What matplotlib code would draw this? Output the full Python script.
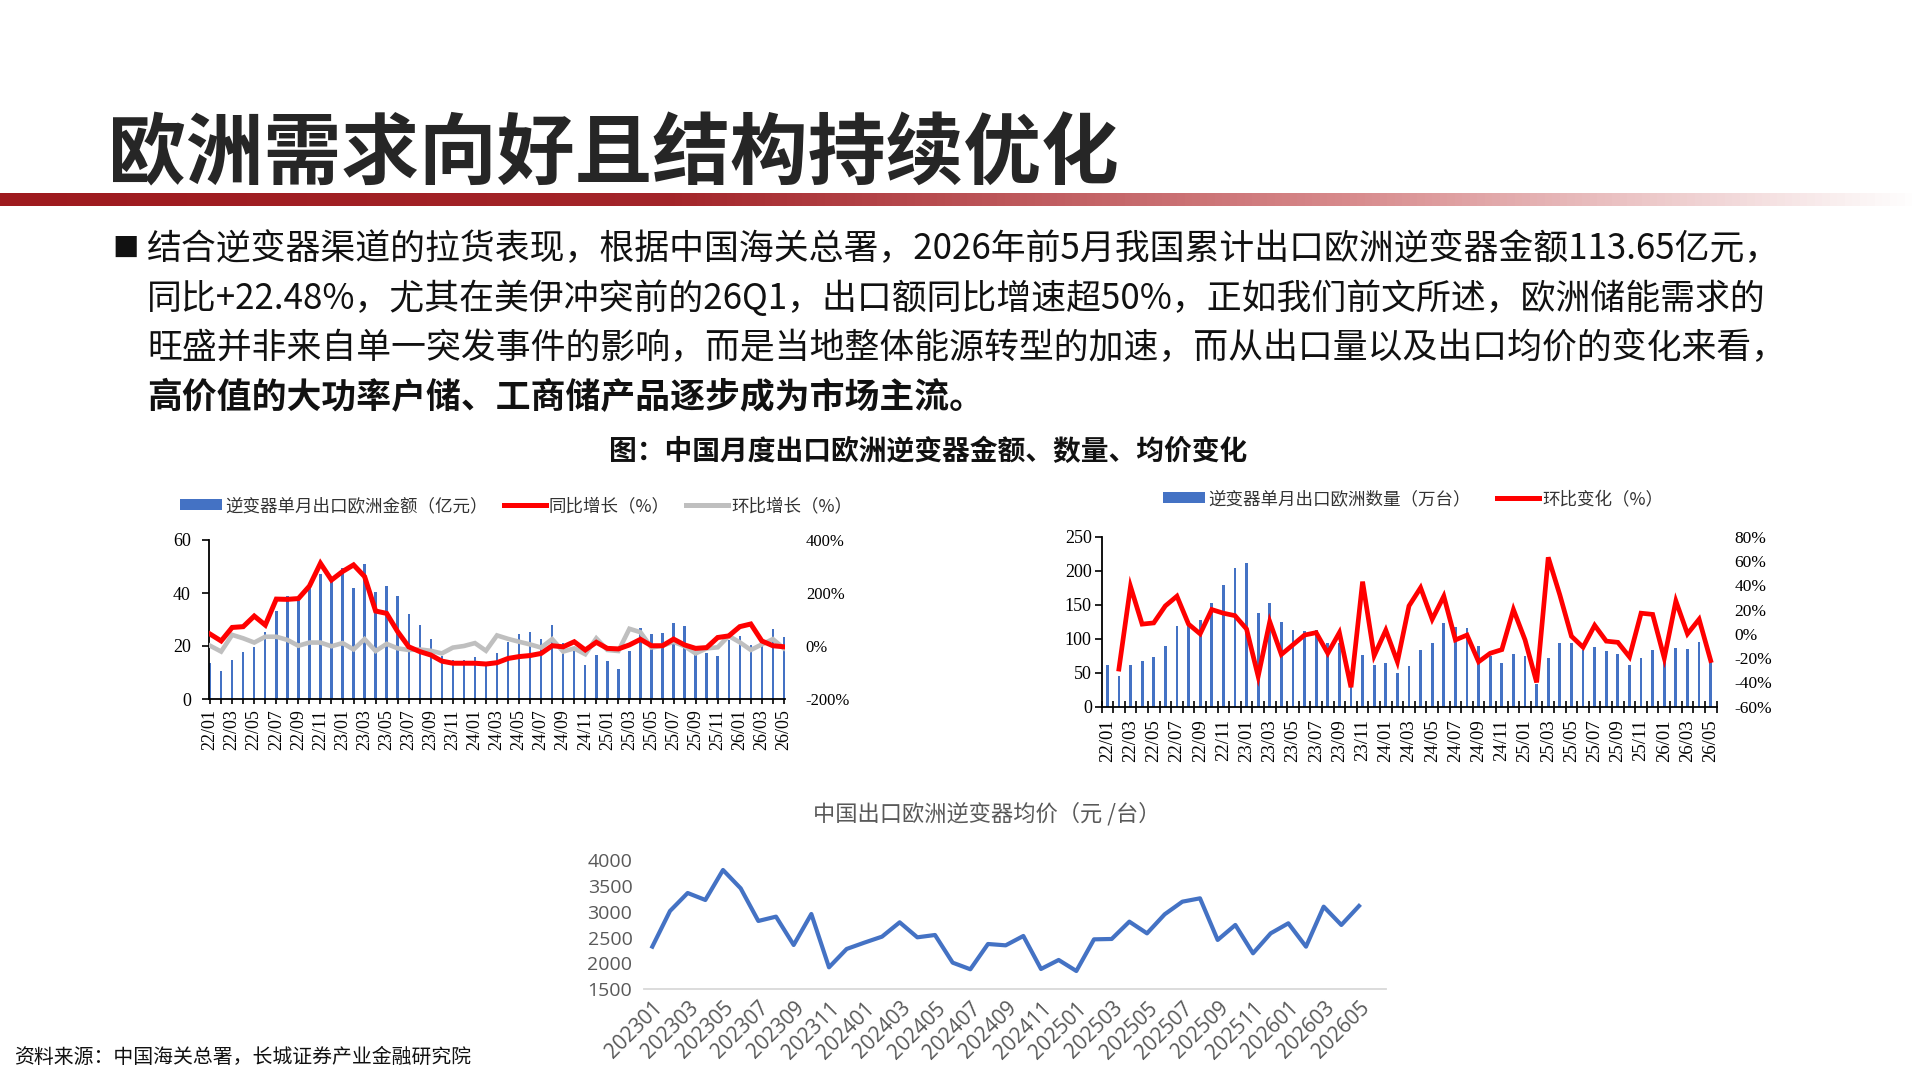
import matplotlib
matplotlib.use('Agg')
import matplotlib.pyplot as plt
import numpy as np
from matplotlib.patches import Patch
from matplotlib.lines import Line2D
from matplotlib.colors import LinearSegmentedColormap

CJK = ['Noto Sans CJK SC', 'DejaVu Sans']
SERIF = ['Liberation Serif', 'Noto Sans CJK SC']
plt.rcParams['font.family'] = CJK

# ---------------- data ----------------
months = [f"{y}/{m:02d}" for y in range(22, 27) for m in range(1, 13)][:53]

amount = [13.5, 10.7, 14.6, 17.8, 19.5, 25.3, 33.1, 38.9, 37.0, 41.9, 47.3, 44.4,
          49.5, 41.9, 51.1, 40.4, 42.8, 38.9, 32.1, 27.9, 22.6, 16.2, 14.9, 14.6,
          15.8, 13.5, 17.4, 21.6, 24.5, 25.1, 22.6, 27.8, 21.3, 18.2, 12.8, 16.5,
          14.2, 11.2, 18.2, 26.9, 24.5, 25.0, 28.8, 27.4, 17.1, 17.5, 16.3, 22.2,
          23.8, 20.2, 20.0, 26.4, 23.3]
amount_yoy = [45, 19, 70, 73, 113, 79, 177, 176, 179, 226, 312, 249,
              281, 306, 262, 132, 123, 54, -3, -21, -34, -57, -65, -65,
              -65, -68, -63, -47, -40, -36, -28, 1, -3, 16, -15, 14,
              -9, -11, 4, 25, 1, 1, 26, 4, -9, -6, 32, 38,
              73, 83, 19, 1, -3]
amount_mom = [1, -21, 42, 29, 13, 35, 35, 23, 1, 13, 13, -1,
              11, -13, 26, -19, 8, -9, -15, -13, -18, -28, -6, 0,
              11, -18, 40, 27, 16, 6, -6, 26, -21, -9, -31, 29,
              -15, -19, 65, 52, -6, 1, 16, -1, -28, -9, -5, 38,
              14, -15, 6, 26, -9]

quantity = [62, 45, 62, 67, 73, 90, 118, 126, 128, 152, 179, 204,
            212, 138, 152, 125, 113, 112, 113, 94, 94, 29, 76, 62,
            64, 49, 60, 84, 94, 123, 117, 116, 89, 75, 65, 78,
            74, 33, 72, 94, 93, 83, 88, 82, 77, 62, 72, 84,
            68, 86, 85, 95, 70]
quantity_mom = [np.nan, -29, 39, 8, 9, 23, 31, 8, 0, 20, 17, 15,
                4, -35, 10, -17, -9, -1, 1, -16, 1, -44, 43, -18,
                3, -23, 23, 38, 12, 31, -5, -1, -23, -16, -13, 20,
                -5, -40, 63, 32, -2, -11, 7, -6, -7, -19, 17, 16,
                -20, 27, 0, 12, -22]

price_months = [f"{y}{m:02d}" for y in range(2023, 2027) for m in range(1, 13)][:41]
avg_price = [2325, 3014, 3362, 3227, 3807, 3452, 2821, 2905, 2357, 2956, 1925, 2280,
             2402, 2518, 2795, 2505, 2550, 2015, 1887, 2376, 2350, 2531, 1893, 2067,
             1854, 2466, 2473, 2808, 2582, 2950, 3194, 3259, 2454, 2744, 2196, 2582,
             2776, 2325, 3098, 2744, 3111]

BLUE = '#4472C4'
RED = '#FF0000'
GREY = '#BFBFBF'
W, H = 1920, 1080


def fx(px):
    return px / W


def fy(py):
    return 1 - py / H


fig = plt.figure(figsize=(19.2, 10.8), dpi=100)

# ---------------- header ----------------
fig.text(fx(108), fy(156), '欧洲需求向好且结构持续优化', fontsize=56, fontweight='bold',
         color='#262626', va='center', ha='left')

grad_ax = fig.add_axes([0, fy(206), 1, 13 / H])
cmap = LinearSegmentedColormap.from_list('g', [(0, '#9E1A1E'), (0.35, '#A3252A'),
                                               (0.7, '#D7898B'), (1.0, '#FFFFFF')])
grad_ax.imshow(np.linspace(0, 1, 512)[None, :], aspect='auto', cmap=cmap,
               extent=[0, 1, 0, 1])
grad_ax.set_axis_off()

fig.text(fx(112), fy(249), '■', fontsize=19, color='#111111', va='center', ha='left')
lines = ['结合逆变器渠道的拉货表现，根据中国海关总署，2026年前5月我国累计出口欧洲逆变器金额113.65亿元，',
         '同比+22.48%，尤其在美伊冲突前的26Q1，出口额同比增速超50%，正如我们前文所述，欧洲储能需求的',
         '旺盛并非来自单一突发事件的影响，而是当地整体能源转型的加速，而从出口量以及出口均价的变化来看，',
         '高价值的大功率户储、工商储产品逐步成为市场主流。']
for i, ln in enumerate(lines):
    fig.text(fx(147), fy(249 + 49.5 * i), ln, fontsize=25.1, color='#111111',
             va='center', ha='left', fontweight='bold' if i == 3 else 'normal')

fig.text(fx(928), fy(452), '图：中国月度出口欧洲逆变器金额、数量、均价变化', fontsize=20,
         fontweight='bold', color='#111111', ha='center', va='center')

# ---------------- left chart ----------------
x = np.arange(len(months))
axL = fig.add_axes([fx(209), fy(699), 576 / W, 159 / H])
axL.bar(x, amount, width=0.22, color=BLUE, zorder=2)
axL.set_xlim(-0.1, 52.1)
axL.set_ylim(0, 60)
axL.set_yticks([0, 20, 40, 60])
axL.set_xticks(x[::2])
axL.set_xticklabels(months[::2], rotation=90, fontsize=13, family=SERIF)
axL.set_xticks(x, minor=True)
axL.tick_params(axis='x', which='both', direction='inout', length=7, width=1.2, pad=4)
axL.tick_params(axis='y', direction='out', length=5, width=1.2, labelsize=13, pad=8)
for lab in axL.get_yticklabels():
    lab.set_family(SERIF)
for s in ['top', 'right']:
    axL.spines[s].set_visible(False)
for s in ['left', 'bottom']:
    axL.spines[s].set_linewidth(1.3)

axL2 = axL.twinx()
axL2.plot(x, amount_mom, color=GREY, lw=3.3, solid_joinstyle='miter', zorder=3)
axL2.plot(x, amount_yoy, color=RED, lw=3.6, solid_joinstyle='miter', zorder=4)
axL2.set_ylim(-200, 400)
axL2.set_yticks([-200, 0, 200, 400])
axL2.set_yticklabels(['-200%', '0%', '200%', '400%'], family=SERIF, fontsize=12)
axL2.tick_params(axis='y', length=0, pad=15)
for s in ['top', 'right', 'left', 'bottom']:
    axL2.spines[s].set_visible(False)

legL = [Patch(facecolor=BLUE, label='逆变器单月出口欧洲金额（亿元）'),
        Line2D([0], [0], color=RED, lw=3.6, label='同比增长（%）'),
        Line2D([0], [0], color=GREY, lw=3.6, label='环比增长（%）')]
fig.legend(handles=legL, loc='center left', bbox_to_anchor=(fx(164), fy(506)), ncol=3,
           frameon=False, fontsize=12.6, handlelength=2.4, handleheight=0.6,
           handletextpad=0.2, columnspacing=0.9, labelcolor='#333333')

# ---------------- right chart ----------------
axR = fig.add_axes([fx(1101.5), fy(706.7), 615 / W, 170 / H])
axR.bar(x, quantity, width=0.24, color=BLUE, zorder=2)
axR.set_xlim(-0.5, 52.5)
axR.set_ylim(0, 250)
axR.set_yticks([0, 50, 100, 150, 200, 250])
axR.set_xticks(x[::2])
axR.set_xticklabels(months[::2], rotation=90, fontsize=13.5, family=SERIF)
axR.set_xticks(np.arange(-0.5, 53, 1), minor=True)
axR.tick_params(axis='x', which='major', length=0, pad=9)
axR.tick_params(axis='x', which='minor', direction='inout', length=8, width=1.2)
axR.tick_params(axis='y', direction='out', length=5, width=1.2, labelsize=13, pad=2)
for lab in axR.get_yticklabels():
    lab.set_family(SERIF)
for s in ['top', 'right']:
    axR.spines[s].set_visible(False)
for s in ['left', 'bottom']:
    axR.spines[s].set_linewidth(1.3)

axR2 = axR.twinx()
axR2.plot(x, quantity_mom, color=RED, lw=3.4, solid_joinstyle='miter', zorder=4)
axR2.set_ylim(-60, 80)
axR2.set_yticks(np.arange(-60, 81, 20))
axR2.set_yticklabels([f'{v}%' for v in range(-60, 81, 20)], family=SERIF, fontsize=12.5)
axR2.tick_params(axis='y', length=0, pad=13)
for s in ['top', 'right', 'left', 'bottom']:
    axR2.spines[s].set_visible(False)

legR = [Patch(facecolor=BLUE, label='逆变器单月出口欧洲数量（万台）'),
        Line2D([0], [0], color=RED, lw=3.6, label='环比变化（%）')]
fig.legend(handles=legR, loc='center left', bbox_to_anchor=(fx(1147), fy(499)), ncol=2,
           frameon=False, fontsize=12.6, handlelength=2.4, handleheight=0.6,
           handletextpad=0.2, columnspacing=1.5, labelcolor='#333333')

# ---------------- bottom chart ----------------
xp = np.arange(len(price_months))
axB = fig.add_axes([fx(643.5), fy(989.3), 742 / W, 129.3 / H])
axB.plot(xp, avg_price, color=BLUE, lw=3.0, solid_joinstyle='round')
axB.set_xlim(-0.5, 41.5)
axB.set_ylim(1500, 4000)
axB.set_yticks(np.arange(1500, 4001, 500))
axB.set_xticks(xp[::2])
axB.set_xticklabels(price_months[::2], rotation=45, ha='right', va='top',
                    rotation_mode='anchor', fontsize=15, color='#595959',
                    family=['Open Sans', 'DejaVu Sans'])
for lab in axB.get_yticklabels():
    lab.set_family(['Open Sans', 'DejaVu Sans'])
axB.tick_params(axis='y', length=0, labelsize=14, labelcolor='#595959', pad=8)
axB.tick_params(axis='x', length=0, pad=6)
for s in ['top', 'right', 'left']:
    axB.spines[s].set_visible(False)
axB.spines['bottom'].set_color('#D9D9D9')
axB.spines['bottom'].set_linewidth(1.3)
fig.text(fx(987), fy(814), '中国出口欧洲逆变器均价（元 /台）', fontsize=16, color='#595959',
         ha='center', va='center')

fig.text(fx(14), fy(1057), '资料来源：中国海关总署，长城证券产业金融研究院', fontsize=14.3,
         color='#111111', ha='left', va='center')

fig.savefig('out.png', dpi=100)
